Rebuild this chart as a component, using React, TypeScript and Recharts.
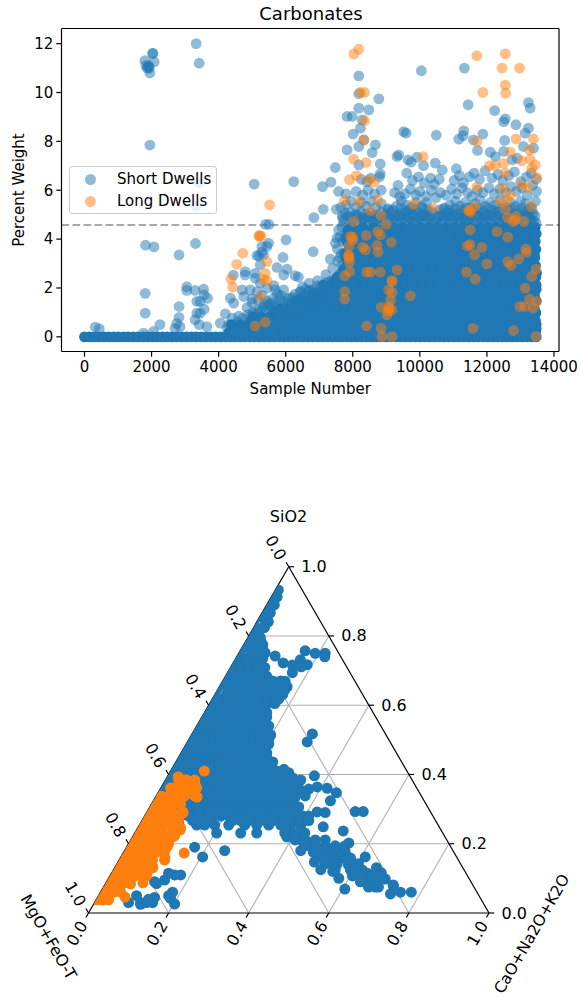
import React from "react";
import { ScatterChart, Scatter, XAxis, YAxis, ReferenceLine, Legend, Label } from "recharts";

const FONT = "'DejaVu Sans', sans-serif";
const BLUE = "#1f77b4";
const ORANGE = "#ff7f0e";

const xTicks = [0, 2000, 4000, 6000, 8000, 10000, 12000, 14000];
const yTicks = [0, 2, 4, 6, 8, 10, 12];
const threshold = 4.58;
const legendOrder = ["Short Dwells", "Long Dwells"];

// Saturated band along zero
const zeroStripX = [0,140,290,430,580,720,870,1010,1160,1300,1450,1590,1740,1880,2030,2170,2320,2460,2610,2750,2900,3040,3190,3330,3480,3620,3770,3910,4060,4200,4350,4490,4640,4780,4930,5070,5220,5360,5510,5650,5800,5940,6090,6230,6380,6520,6670,6810,6960,7100,7250,7390,7540,7680,7830,7970,8120,8260,8410,8550,8700,8840,8990,9130,9280,9420,9570,9710,9860,10000,10150,10290,10440,10580,10730,10870,11020,11160,11310,11450,11600,11740,11890,12030,12180,12320,12470,12610,12760,12900,13050,13190,13340,13470];

// Saturated mass, row by row
const coreRowY = [0.33,0.66,0.98,1.3,1.62,1.95,2.28,2.6,2.92,3.25,3.58,3.9,4.22,4.48];
const coreRowX = [
  [4560,4810,5090,5340,5600,5830,6100,6350,6590,6860,7090,7350,7600,7850,8100,8330,8590,8820,9090,9320,9580,9820,10090,10320,10580,10830,11090,11330,11570,11830,12080,12330,12570,12820,13080,13320,13470],
  [5000,5280,5500,5760,6020,6240,6500,6730,7000,7220,7480,7730,7960,8220,8470,8700,8960,9200,9450,9700,9950,10200,10450,10700,10950,11200,11450,11700,11950,12200,12450,12700,12950,13200,13450],
  [5640,5900,6130,6390,6620,6880,7110,7370,7600,7850,8090,8340,8590,8830,9080,9320,9570,9810,10060,10300,10550,10790,11040,11280,11530,11770,12020,12260,12510,12750,13000,13240,13460],
  [6300,6540,6790,7030,7280,7520,7770,8010,8260,8500,8750,8990,9240,9480,9730,9970,10220,10460,10710,10950,11200,11440,11690,11930,12180,12420,12670,12910,13160,13400],
  [6800,7040,7290,7530,7780,8040,8280,8520,8770,9020,9250,9500,9750,9990,10230,10480,10730,10970,11220,11460,11710,11950,12200,12440,12690,12930,13180,13430],
  [7180,7420,7660,7900,8150,8390,8640,8880,9130,9370,9620,9860,10110,10350,10600,10840,11090,11330,11580,11820,12070,12310,12560,12800,13050,13290,13470],
  [7470,7720,7960,8210,8450,8700,8940,9190,9430,9680,9920,10170,10410,10660,10900,11150,11390,11640,11880,12130,12370,12620,12860,13110,13350],
  [7740,7980,8230,8470,8720,8960,9210,9450,9700,9940,10190,10430,10680,10920,11170,11410,11660,11900,12150,12390,12640,12880,13130,13370,13480],
  [7830,8080,8320,8570,8810,9060,9300,9550,9790,10040,10280,10530,10770,11020,11260,11510,11750,12000,12240,12490,12730,12980,13220,13450],
  [7800,8040,8290,8530,8780,9020,9270,9510,9760,10000,10250,10490,10740,10980,11230,11470,11720,11960,12210,12450,12700,12940,13190,13430],
  [7880,8130,8370,8620,8860,9110,9350,9600,9840,10090,10330,10580,10820,11070,11310,11560,11800,12050,12290,12540,12780,13030,13270,13460],
  [7820,8060,8310,8550,8800,9040,9290,9530,9780,10020,10270,10510,10760,11000,11250,11490,11740,11980,12230,12470,12720,12960,13210,13440],
  [7900,8150,8390,8640,8880,9130,9370,9620,9860,10110,10350,10600,10840,11090,11330,11580,11820,12070,12310,12560,12800,13050,13290,13470],
  [7960,8300,8620,8960,9230,9480,9750,10030,10280,10520,10790,11040,11290,11520,11790,12040,12280,12540,12780,13030,13280,13440],
];
const coreMidY = [0.16,0.5,0.82,1.14,1.46,1.78,2.12,2.44,2.76,3.08,3.42,3.74,4.06,4.36];
const coreMidX = [
  [4300,4680,4950,5220,5470,5710,5970,6220,6470,6720,6970,7220,7470,7720,7970,8220,8470,8720,8970,9210,9460,9710,9960,10210,10460,10710,10960,11210,11460,11700,11950,12200,12450,12700,12950,13200,13450],
  [4380,4640,4880,5140,5390,5630,5880,6120,6370,6610,6860,7100,7350,7590,7840,8080,8330,8570,8820,9060,9310,9550,9800,10040,10290,10530,10780,11020,11270,11510,11760,12000,12250,12490,12740,12980,13230,13470],
  [5020,5270,5510,5760,6000,6250,6490,6740,6980,7230,7470,7720,7960,8210,8450,8700,8940,9190,9430,9680,9920,10170,10410,10660,10900,11150,11390,11640,11880,12130,12370,12620,12860,13110,13350],
  [5820,6070,6310,6560,6800,7050,7290,7540,7780,8030,8270,8520,8760,9010,9250,9500,9740,9990,10230,10480,10720,10970,11210,11460,11700,11950,12190,12440,12680,12930,13170,13420],
  [6320,6570,6810,7060,7300,7550,7790,7940,8160,8400,8650,8890,9140,9380,9630,9870,10120,10360,10610,10850,11100,11340,11590,11830,12080,12320,12570,12810,13060,13300,13470],
  [6820,7070,7310,7560,7800,8020,8260,8510,8750,9000,9240,9490,9730,9980,10220,10470,10710,10960,11200,11450,11690,11940,12180,12430,12670,12920,13160,13410],
  [7120,7360,7610,7850,8090,8330,8580,8820,9070,9310,9560,9800,10050,10290,10540,10780,11030,11270,11520,11760,12010,12250,12500,12740,12990,13230,13470],
  [7530,7770,7860,8100,8340,8590,8830,9080,9320,9570,9810,10060,10300,10550,10790,11040,11280,11530,11770,12020,12260,12510,12750,13000,13240,13460],
  [7720,7940,8190,8430,8680,8920,9170,9410,9660,9900,10150,10390,10640,10880,11130,11370,11620,11860,12110,12350,12600,12840,13090,13330],
  [7930,8170,8420,8660,8910,9150,9400,9640,9890,10130,10380,10620,10870,11110,11360,11600,11850,12090,12340,12580,12830,13070,13320],
  [7760,7990,8240,8480,8730,8970,9220,9460,9710,9950,10200,10440,10690,10930,11180,11420,11670,11910,12160,12400,12650,12890,13140,13380],
  [7950,8190,8440,8680,8930,9170,9420,9660,9910,10150,10400,10640,10890,11130,11380,11620,11870,12110,12360,12600,12850,13090,13340],
  [7780,8020,8270,8510,8760,9000,9250,9490,9740,9980,10230,10470,10720,10960,11210,11450,11700,11940,12190,12430,12680,12920,13170,13410],
  [7850,8100,8440,8780,9100,9360,9620,9890,10150,10400,10660,10910,11160,11400,11660,11910,12160,12410,12660,12910,13150,13390],
];

const shortX = [
  1800,1830,1870,1920,1950,2030,2040,2080,1930,1900,3330,3420,1950,3430,3330,5060,6240,5400,5500,1820,2070,2820,3310,5200,
  1810,1810,2250,2820,2820,3050,3050,3300,3550,3570,3670,3350,3450,3570,3350,3450,3300,3420,3650,2750,2700,2850,320,440,2060,1760,
  4050,4200,4400,4350,4450,4700,4750,4440,4790,4790,5090,5090,5140,5340,5240,5290,5440,5490,5290,5740,6040,5920,6010,5940,6280,6380,5690,5940,4940,5240,
  4300,4600,4850,5000,5150,5300,5450,5600,5750,5450,5650,5850,6050,6200,6400,6550,6700,6850,7000,7150,7300,7450,7600,6100,6300,6500,6700,6900,7100,7300,7500,6500,6700,6950,7200,7400,7550,
  8180,8180,8180,8775,8480,7830,8280,7980,8230,8010,8330,8180,8675,7830,8580,7480,8180,8820,8820,7100,7350,7580,7120,7510,6840,6820,7330,7480,7530,7580,
  10045,11330,11440,12230,13240,13290,12500,12550,12865,13240,13140,9520,9590,10490,11310,11160,11290,11880,11600,12530,13090,13390,9320,9370,9650,9740,9915,10110,10460,10670,11090,11720,12100,12250,12500,12750,12900,
  7700,7850,8000,8150,8300,8450,8600,8750,8900,9050,9200,9350,9500,9650,9800,9950,10100,10250,10400,10550,10700,10850,11000,11150,11300,11450,11600,11750,11900,12050,12200,12350,12500,12650,12800,12950,13100,13250,13400,
  7650,7800,7950,8100,8250,8400,8550,8700,8850,9050,9300,9450,9600,9750,9900,10050,10200,10700,10900,11050,11200,11350,11500,11650,11800,11950,12100,12250,12400,12550,12700,12850,13000,13150,13300,13450,
  7800,8100,8300,8450,8650,8850,9250,9400,9560,9720,9880,10000,10180,10340,10480,10620,10780,10950,11100,11260,11420,11560,11720,11880,12060,12220,12380,12560,12720,12880,13040,13200,13360,13480,
  8250,8420,8540,8800,9350,9610,9780,9960,10130,10320,10430,10580,11020,11180,11300,11480,11620,11780,11950,12150,12330,12470,12650,12820,13010,13180,13320,13470,
];
const shortY = [
  11.3,11.1,11.0,11.1,10.8,11.6,11.6,11.25,11.0,11.05,12.0,11.2,7.85,6.3,5.35,6.25,6.35,4.6,4.6,3.75,3.68,3.35,3.82,3.3,
  1.78,0.97,0.5,1.24,0.8,2.05,1.9,1.9,1.95,1.72,1.58,1.45,1.45,1.13,0.97,0.97,0.7,0.5,0.42,0.55,0.35,0.42,0.4,0.33,0.22,0.15,
  0.56,0.94,0.77,1.58,1.38,1.92,1.65,2.53,2.53,2.67,2.6,2.4,3.33,3.36,2.95,3.7,3.7,3.83,3.47,2.84,2.77,3.25,3.97,2.53,2.5,2.45,1.92,1.92,1.92,2.2,
  0.5,0.85,1.2,1.55,1.85,1.7,1.45,1.55,1.75,2.0,2.1,1.7,1.55,1.6,1.5,1.7,1.9,1.65,1.95,2.1,1.8,2.3,2.5,1.2,1.25,1.3,1.4,1.45,1.5,1.55,1.9,2.05,2.2,2.3,2.55,2.8,3.1,
  10.68,9.95,9.36,9.74,9.29,9.02,8.88,9.02,8.54,8.3,8.06,7.79,7.86,7.65,7.54,6.93,7.04,7.08,6.67,6.15,6.33,5.95,5.22,5.22,4.88,3.49,3.18,3.83,4.04,4.38,
  10.89,11.0,9.5,9.26,9.59,9.36,8.81,8.92,8.68,8.54,8.34,8.4,8.34,8.25,8.43,8.09,8.23,8.3,8.06,8.04,7.79,7.72,7.38,7.45,7.24,7.15,7.35,7.01,7.11,6.83,6.88,7.63,7.56,7.38,7.59,7.24,7.31,
  4.85,4.95,4.75,4.9,4.8,4.9,4.75,4.85,4.7,4.85,4.8,4.95,4.8,4.9,4.75,4.85,4.95,4.8,4.7,4.9,4.8,4.95,4.75,4.9,4.85,4.8,4.7,4.95,4.85,4.8,4.95,4.75,4.85,4.7,4.9,4.8,4.95,4.85,4.75,
  5.3,5.4,5.55,5.3,5.5,5.35,5.55,5.3,5.45,5.2,5.35,5.55,5.4,5.3,5.5,5.35,5.5,5.25,5.4,5.55,5.35,5.5,5.3,5.45,5.6,5.35,5.5,5.4,5.6,5.3,5.5,5.35,5.55,5.45,5.3,5.55,
  5.85,5.95,5.8,6.0,5.85,6.0,5.9,5.75,5.85,6.05,5.8,5.95,5.75,6.0,5.7,5.9,5.8,6.05,5.85,6.1,5.9,5.75,6.0,5.9,6.1,5.85,6.05,5.9,6.15,5.95,6.1,5.8,6.2,5.95,
  6.45,6.35,6.5,6.55,6.2,6.7,6.4,6.55,6.3,6.5,6.25,6.45,6.4,6.6,6.3,6.55,6.7,6.45,6.8,6.5,6.65,6.4,6.6,6.75,6.35,6.55,6.7,6.45,
];

// Extra overlapping short-dwell readings along the top of the mass and the rising shoulder
const fringeX = [
  7730,7900,8060,8210,8370,8510,8660,8830,8980,9130,9280,9430,9570,9720,9870,10020,10170,10320,10470,10620,10770,10920,11070,11220,11370,11520,11670,11820,11970,12120,12270,12420,12570,12720,12870,13020,13170,13320,13470,
  7780,7930,8080,8240,8390,8530,8690,8860,9010,9170,9330,9470,9630,9780,9930,10090,10240,10390,10650,10810,10970,11130,11290,11440,11590,11740,11890,12030,12180,12330,12480,12630,12780,12930,13080,13230,13380,
  7690,7960,8140,8320,8480,8620,8780,8930,9090,9260,9410,9540,9690,9840,9990,10140,10290,10540,10720,10890,11010,11170,11340,11480,11630,11790,11930,12090,12240,12400,12530,12680,12840,12990,13140,13280,13440,
  9050,9200,9430,9570,9730,9880,10050,10200,10340,10600,10750,10900,11060,11230,11390,11540,11700,11850,12010,12160,12310,12460,12610,12760,12910,13060,13210,13350,
  4250,4420,4570,4720,4870,5020,5170,5320,5470,5620,5770,5920,6070,6220,6370,6520,6670,6820,6970,7120,7270,7420,7570,7700,
  4480,4630,4780,4930,5080,5230,5380,5530,5680,5830,5980,6130,6280,6430,6580,6730,6880,7030,7180,7330,7480,7630,
  5000,5180,5360,5550,5760,5980,6150,6320,6480,6640,6800,6960,7120,7280,7440,7590,7720,
  6450,6600,6790,6950,7110,7260,7410,7560,7680,7620,7540,7660,7700,7620,7680,
];
const fringeY = [
  4.7,4.65,4.72,4.68,4.75,4.65,4.72,4.68,4.75,4.65,4.7,4.72,4.66,4.75,4.68,4.7,4.74,4.66,4.72,4.68,4.75,4.7,4.65,4.72,4.68,4.74,4.66,4.72,4.7,4.66,4.75,4.68,4.72,4.65,4.7,4.74,4.68,4.72,4.66,
  5.05,5.1,5.0,5.12,5.02,5.08,5.0,5.1,5.05,5.12,5.0,5.08,5.12,5.02,5.1,5.0,5.08,5.05,5.0,5.1,5.08,5.02,5.12,5.0,5.1,5.05,5.12,5.0,5.08,5.1,5.02,5.12,5.05,5.0,5.1,5.08,5.02,
  4.95,4.9,4.98,4.88,4.92,4.95,4.9,4.98,4.88,4.94,4.92,4.98,4.88,4.95,4.9,4.96,4.88,4.92,4.95,4.9,4.98,4.88,4.94,4.9,4.96,4.88,4.92,4.98,4.9,4.95,4.88,4.92,4.98,4.9,4.94,4.88,4.95,
  5.25,5.2,5.28,5.18,5.25,5.2,5.28,5.22,5.15,5.2,5.28,5.18,5.25,5.2,5.28,5.18,5.25,5.2,5.28,5.18,5.22,5.25,5.2,5.28,5.18,5.25,5.2,5.22,
  0.35,0.5,0.62,0.75,0.9,1.0,1.1,1.2,1.28,1.38,1.3,1.45,1.35,1.42,1.55,1.62,1.6,1.72,1.8,1.85,1.95,2.05,2.2,2.45,
  0.2,0.42,0.55,0.8,0.95,1.05,1.15,1.35,1.2,1.55,1.25,1.6,1.75,1.85,1.55,1.9,1.7,2.05,2.2,2.15,2.25,2.6,
  1.4,1.5,1.35,1.1,1.05,1.15,1.12,1.2,1.18,1.25,1.3,1.35,1.42,1.5,1.6,1.72,2.6,
  1.85,1.95,1.92,2.1,2.0,2.25,2.35,2.45,2.95,3.25,3.6,3.4,3.9,4.1,4.5,
];

const longX = [
  8030,8180,11700,12550,12450,12975,11880,12550,12560,8230,8350,8350,8330,12865,13390,11700,12700,13270,8030,8400,10095,12080,12250,12500,13290,13440,13040,13340,12550,8110,7900,8480,8645,13490,13040,13220,11700,12470,12700,12600,7750,8180,8745,12400,13320,11650,9820,10390,11450,8530,12550,8845,12860,12620,13100,8030,9000,11500,8745,12300,7930,8400,8825,9150,12620,8000,11500,8725,8300,8380,7880,8755,11850,13160,11630,13180,12620,12950,7880,12720,12000,9320,8410,8530,8820,7910,7760,11390,11650,13340,13470,9170,9070,9170,7760,7760,13140,9720,13270,13490,12980,13130,13380,8845,9070,9170,9020,8410,8845,11585,12795,8870,9170,13460,
  5520,5220,4720,4540,4370,4420,5440,5390,5340,5440,5240,5090,5390,5200,5260,7880,9170,9050,11480,11520,11420,12780,12840,8000,7900,7880,9130,9090,
];
const longY = [
  11.58,11.77,11.5,11.58,11.0,11.0,10.0,10.3,9.97,10.0,10.0,8.85,8.06,8.1,8.1,8.0,7.56,7.65,7.27,7.13,7.38,7.01,7.01,7.1,7.27,7.04,7.2,6.9,6.7,6.6,6.43,6.43,6.33,6.52,6.22,6.11,6.13,6.08,5.81,5.6,5.58,5.54,5.6,5.54,5.33,5.36,5.43,5.29,5.17,5.17,5.22,4.97,4.93,4.88,4.72,4.72,4.6,4.38,4.31,4.31,4.1,4.15,4.17,3.87,4.08,3.97,3.77,3.74,3.67,3.56,3.7,3.47,3.66,3.59,3.36,3.47,3.08,3.19,3.22,2.92,2.99,2.74,2.65,2.65,2.65,2.67,2.5,2.65,2.36,2.47,2.77,2.26,1.92,1.81,1.86,1.54,1.99,1.68,1.54,1.45,1.24,1.24,1.17,1.21,1.24,1.1,0.9,0.45,0.35,0.35,0.26,0.01,0.01,0.02,
  5.4,4.13,3.42,2.97,2.36,2.03,3.08,2.6,2.36,2.3,1.65,0.45,0.6,4.13,4.13,3.3,2.3,1.05,5.18,5.1,3.72,4.72,4.78,4.08,3.05,3.35,1.5,1.15,
];

// Ternary: horizontal projection (CaO + SiO2/2) and SiO2
const ternBlueRowS = [0.775,0.748,0.722,0.696,0.67,0.644,0.618,0.592,0.566,0.54,0.514,0.488,0.462,0.436,0.41,0.384,0.358,0.332,0.306,0.28,0.254,0.231];
const ternBlueRowX = [
  [0.39,0.415,0.435],
  [0.375,0.405,0.425,0.438],
  [0.36,0.39,0.41,0.43],
  [0.35,0.375,0.395,0.415,0.435],
  [0.335,0.36,0.38,0.4,0.42,0.44,0.46,0.48],
  [0.32,0.35,0.37,0.39,0.41,0.43,0.45,0.47,0.49],
  [0.31,0.335,0.355,0.375,0.395,0.415,0.435,0.455,0.475],
  [0.295,0.32,0.34,0.36,0.38,0.4,0.42,0.44],
  [0.285,0.31,0.33,0.35,0.37,0.39,0.41,0.43,0.445],
  [0.27,0.295,0.315,0.335,0.355,0.375,0.395,0.415,0.435,0.45],
  [0.257,0.28,0.3,0.32,0.34,0.36,0.38,0.4,0.42,0.44,0.455],
  [0.244,0.27,0.29,0.31,0.33,0.35,0.37,0.39,0.41,0.43,0.45],
  [0.231,0.255,0.275,0.295,0.315,0.335,0.355,0.375,0.395,0.415,0.435,0.445],
  [0.218,0.245,0.265,0.285,0.305,0.325,0.345,0.365,0.385,0.405,0.425,0.445,0.46],
  [0.205,0.23,0.25,0.27,0.29,0.31,0.33,0.35,0.37,0.39,0.41,0.43,0.45,0.47,0.49],
  [0.192,0.22,0.24,0.26,0.28,0.3,0.32,0.34,0.36,0.38,0.4,0.42,0.44,0.46,0.48,0.5,0.53],
  [0.18,0.205,0.225,0.245,0.265,0.285,0.305,0.325,0.345,0.365,0.385,0.405,0.425,0.445,0.465,0.485,0.505,0.525,0.55],
  [0.166,0.19,0.21,0.23,0.25,0.27,0.29,0.31,0.33,0.35,0.37,0.39,0.41,0.43,0.45,0.47,0.49,0.515],
  [0.153,0.18,0.2,0.22,0.24,0.26,0.28,0.3,0.32,0.34,0.36,0.38,0.4,0.42,0.44,0.46,0.48,0.5,0.525],
  [0.14,0.17,0.19,0.21,0.23,0.25,0.27,0.29,0.31,0.33,0.35,0.37,0.39,0.41,0.43,0.45,0.47,0.49,0.515,0.535,0.55],
  [0.27,0.29,0.315,0.35,0.39,0.42,0.45,0.48,0.505,0.53],
  [0.32,0.38,0.42,0.49,0.515,0.54],
];
const ternBlueMidS = [0.92,0.9,0.875,0.855,0.83,0.81,0.785,0.762,0.735,0.709,0.683,0.657,0.631,0.605,0.579,0.553,0.527,0.501,0.475,0.449,0.423,0.397,0.371,0.345,0.319,0.293,0.267];
const ternBlueMidX = [
  [0.46],
  [0.45],
  [0.44],
  [0.43],
  [0.415,0.44],
  [0.405,0.425],
  [0.395,0.415,0.43],
  [0.382,0.405,0.425,0.435],
  [0.37,0.395,0.415,0.435],
  [0.355,0.38,0.4,0.42,0.44],
  [0.342,0.365,0.385,0.405,0.425,0.445],
  [0.33,0.355,0.375,0.395,0.415,0.435,0.455,0.475,0.49],
  [0.316,0.345,0.365,0.385,0.405,0.425,0.445,0.465,0.485],
  [0.303,0.325,0.345,0.365,0.385,0.405,0.425,0.445,0.465],
  [0.29,0.31,0.33,0.35,0.37,0.39,0.41,0.43,0.445],
  [0.277,0.3,0.32,0.34,0.36,0.38,0.4,0.42,0.44],
  [0.264,0.285,0.305,0.325,0.345,0.365,0.385,0.405,0.425,0.445],
  [0.25,0.27,0.29,0.31,0.33,0.35,0.37,0.39,0.41,0.43,0.45],
  [0.238,0.26,0.28,0.3,0.32,0.34,0.36,0.38,0.4,0.42,0.44],
  [0.225,0.245,0.265,0.285,0.305,0.325,0.345,0.365,0.385,0.405,0.425,0.445],
  [0.212,0.235,0.255,0.275,0.295,0.315,0.335,0.355,0.375,0.395,0.415,0.435,0.455],
  [0.2,0.22,0.24,0.26,0.28,0.3,0.32,0.34,0.36,0.38,0.4,0.42,0.44,0.46,0.48],
  [0.186,0.21,0.23,0.25,0.27,0.29,0.31,0.33,0.35,0.37,0.39,0.41,0.43,0.45,0.47,0.49,0.51],
  [0.173,0.195,0.215,0.235,0.255,0.275,0.295,0.315,0.335,0.355,0.375,0.395,0.415,0.435,0.455,0.475,0.495,0.515],
  [0.16,0.185,0.205,0.225,0.245,0.265,0.285,0.305,0.325,0.345,0.365,0.385,0.405,0.425,0.445,0.465,0.485,0.505],
  [0.147,0.17,0.19,0.21,0.23,0.25,0.28,0.3,0.32,0.34,0.36,0.38,0.4,0.42,0.44,0.46,0.48,0.5,0.52],
  [0.134,0.16,0.18,0.2,0.26,0.28,0.3,0.36,0.38,0.4,0.44,0.46,0.5,0.525,0.55],
];
// The thick descending band toward the lower right
const ternBandS = [0.211,0.194,0.176,0.159,0.142,0.124,0.107,0.09,0.075];
const ternBandX = [
  [0.516,0.541,0.566,0.591],
  [0.541,0.566,0.591,0.616,0.641],
  [0.566,0.591,0.616,0.641],
  [0.579,0.604,0.629,0.654],
  [0.591,0.621,0.649,0.674],
  [0.616,0.654,0.684],
  [0.659,0.684,0.709],
  [0.679,0.704,0.724],
  [0.699,0.724],
];
const ternBlueX = [0.474,0.471,0.464,0.454,0.449,0.439,0.429,0.441,0.466,0.486,0.509,0.541,0.566,0.591,0.59,0.529,0.546,0.531,0.509,0.491,0.496,0.479,0.466,0.559,0.546,0.564,0.488,0.571,0.541,0.596,0.619,0.604,0.571,0.591,0.666,0.686,0.586,0.636,0.65,0.599,0.571,0.536,0.561,0.586,0.616,0.636,0.611,0.564,0.591,0.641,0.656,0.691,0.719,0.649,0.664,0.686,0.696,0.721,0.731,0.741,0.761,0.779,0.64,0.761,0.806,0.721,0.754,0.716,0.5,0.51,0.525,0.5,0.51,0.53,0.495,0.52,0.495,0.53,0.55,0.57,0.58,0.6,0.61,0.625,0.265,0.225,0.15,0.2,0.205,0.13,0.145,0.21,0.17,0.165,0.12,0.2,0.23,0.285,0.34,0.215,0.1,0.13,0.16,0.215,0.19,0.165,0.135];
const ternBlueS = [0.933,0.913,0.89,0.867,0.841,0.824,0.795,0.751,0.742,0.722,0.716,0.757,0.75,0.75,0.74,0.731,0.717,0.711,0.694,0.669,0.653,0.669,0.636,0.517,0.494,0.396,0.415,0.364,0.338,0.36,0.347,0.324,0.292,0.29,0.293,0.293,0.249,0.237,0.202,0.179,0.19,0.205,0.176,0.162,0.19,0.19,0.162,0.147,0.16,0.159,0.15,0.162,0.131,0.139,0.122,0.118,0.115,0.121,0.116,0.098,0.081,0.06,0.069,0.078,0.06,0.087,0.055,0.075,0.405,0.39,0.36,0.34,0.31,0.26,0.245,0.22,0.22,0.18,0.2,0.165,0.125,0.145,0.12,0.1,0.19,0.26,0.04,0.05,0.042,0.03,0.03,0.06,0.085,0.09,0.05,0.115,0.11,0.162,0.18,0.026,0.03,0.025,0.03,0.11,0.095,0.045,0.14];

const ternOrangeX = [0.289,0.224,0.266,0.259,0.271,0.241,0.221,0.234,0.186,0.204,0.221,0.236,0.186,0.204,0.171,0.196,0.221,0.154,0.229,0.211,0.136,0.161,0.186,0.111,0.146,0.171,0.196,0.239,0.191,0.104,0.129,0.154,0.161,0.146,0.121,0.136,0.091,0.086,0.071,0.061,0.036,0.049,0.096,0.079];
const ternOrangeS = [0.41,0.393,0.372,0.355,0.335,0.384,0.364,0.347,0.335,0.326,0.318,0.289,0.298,0.289,0.269,0.263,0.269,0.263,0.24,0.22,0.231,0.231,0.22,0.202,0.202,0.19,0.19,0.173,0.159,0.162,0.162,0.153,0.133,0.116,0.11,0.087,0.046,0.087,0.095,0.066,0.038,0.058,0.124,0.124];
const ternOrangeRowS = [0.384,0.361,0.338,0.315,0.292,0.269,0.246,0.223,0.2,0.176,0.153,0.13,0.107,0.084,0.061,0.038];
const ternOrangeRowX = [
  [0.225,0.245,0.265],
  [0.205,0.23,0.25,0.27],
  [0.18,0.2,0.22,0.24,0.265],
  [0.165,0.185,0.205,0.23],
  [0.15,0.17,0.19,0.21,0.235],
  [0.135,0.155,0.175,0.195,0.225],
  [0.125,0.145,0.165,0.185,0.21,0.23],
  [0.113,0.135,0.155,0.175,0.195,0.215],
  [0.1,0.12,0.14,0.16,0.18,0.2],
  [0.09,0.11,0.13,0.15,0.17,0.19],
  [0.078,0.1,0.12,0.14,0.16,0.19],
  [0.066,0.09,0.11,0.13,0.15,0.16],
  [0.055,0.075,0.095,0.115,0.135,0.145],
  [0.043,0.065,0.085,0.105],
  [0.032,0.05,0.065,0.08],
  [0.02,0.035,0.05],
];

const gridLevels = [0.2, 0.4, 0.6, 0.8];
const tickValues = [0, 0.2, 0.4, 0.6, 0.8, 1];
const tickLabels = ["0.0", "0.2", "0.4", "0.6", "0.8", "1.0"];

const shortPoints = [
  ...shortX.map((x, i) => ({ x, y: shortY[i] })),
  ...fringeX.map((x, i) => ({ x, y: fringeY[i] })),
];
const longPoints = longX.map((x, i) => ({ x, y: longY[i] }));
const rows = (ys: number[], xs: number[][]) => xs.flatMap((row, i) => row.map((x) => ({ x, y: ys[i] })));
const corePoints = [
  ...zeroStripX.map((x) => ({ x, y: 0 })),
  ...rows(coreRowY, coreRowX),
  ...rows(coreMidY, coreMidX),
];
const ternBluePoints = [
  ...ternBlueX.map((x, i) => ({ x, y: ternBlueS[i] })),
  ...rows(ternBlueRowS, ternBlueRowX),
  ...rows(ternBlueMidS, ternBlueMidX),
  ...rows(ternBandS, ternBandX),
];
const ternOrangePoints = [
  ...ternOrangeX.map((x, i) => ({ x, y: ternOrangeS[i] })),
  ...rows(ternOrangeRowS, ternOrangeRowX),
];

const dot = (fill: string, opacity: number, r = 5.4, clip?: string) => (p: any) => (
  <circle cx={p.cx} cy={p.cy} r={r} fill={fill} fillOpacity={opacity} stroke="none" clipPath={clip} />
);

const tickStyle = { fontSize: 15, fontFamily: FONT, fill: "#000" };
const axisLine = { stroke: "#000", strokeWidth: 1.2 };

const renderLegend = (props: any) => {
  const items = legendOrder.map((n) => (props.payload || []).find((e: any) => e.value === n)).filter(Boolean);
  return (
    <div style={{ boxSizing: "border-box", width: 148, height: 48, background: "rgba(255,255,255,0.8)", border: "1px solid #ccc", borderRadius: 3, position: "relative", fontFamily: FONT, fontSize: 15, color: "#000" }}>
      {items.map((e: any, i: number) => (
        <div key={e.value} style={{ position: "absolute", left: 0, top: 1 + i * 22, height: 22, lineHeight: "22px", whiteSpace: "nowrap" }}>
          <span style={{ position: "absolute", left: 15, top: 5.5, width: 11, height: 11, borderRadius: "50%", background: e.color, opacity: 0.5 }} />
          <span style={{ position: "absolute", left: 47 }}>{e.value}</span>
        </div>
      ))}
    </div>
  );
};

const X_DOMAIN = [-686, 14150];
const Y_DOMAIN = [-0.6, 12.62];

const TopChart = () => (
  <ScatterChart width={580} height={400} margin={{ top: 28.5, right: 21, bottom: 0, left: 0 }} style={{ position: "absolute", left: 0, top: 0 }}>
    <XAxis type="number" dataKey="x" domain={X_DOMAIN} ticks={xTicks} allowDataOverflow height={48.5} tick={tickStyle} tickSize={5.2} tickMargin={5} axisLine={axisLine} tickLine={axisLine} interval={0}>
      <Label value="Sample Number" position="insideBottom" offset={6} style={{ fontSize: 15, fontFamily: FONT, fill: "#000" }} />
    </XAxis>
    <YAxis type="number" dataKey="y" domain={Y_DOMAIN} ticks={yTicks} allowDataOverflow width={61.5} tick={tickStyle} tickSize={5.2} tickMargin={3} axisLine={axisLine} tickLine={axisLine} interval={0}>
      <Label value="Percent Weight" angle={-90} position="insideLeft" offset={19} style={{ fontSize: 15, fontFamily: FONT, fill: "#000", textAnchor: "middle" }} />
    </YAxis>
    <Scatter data={corePoints} legendType="none" fill={BLUE} shape={dot(BLUE, 1)} isAnimationActive={false} />
    <Scatter name="Short Dwells" data={shortPoints} fill={BLUE} shape={dot(BLUE, 0.5)} isAnimationActive={false} />
    <Scatter name="Long Dwells" data={longPoints} fill={ORANGE} shape={dot(ORANGE, 0.5)} isAnimationActive={false} />
    <ReferenceLine y={threshold} stroke="#a9a9a9" strokeWidth={2} strokeDasharray="7.7 3.3" />
    <ReferenceLine y={Y_DOMAIN[1]} stroke="#000" strokeWidth={1.2} />
    <ReferenceLine x={X_DOMAIN[1]} stroke="#000" strokeWidth={1.2} />
    <Legend layout="vertical" align="center" verticalAlign="middle" content={renderLegend} wrapperStyle={{ position: "absolute", left: 69, top: 166, width: 148, height: 48 }} />
    <text x={311} y={20} textAnchor="middle" fontSize={18} fontFamily={FONT} fill="#000">Carbonates</text>
  </ScatterChart>
);

const Seg = (a: [number, number], b: [number, number], key: string, stroke: string, w: number) => (
  <ReferenceLine key={key} segment={[{ x: a[0], y: a[1] }, { x: b[0], y: b[1] }]} stroke={stroke} strokeWidth={w} ifOverflow="visible" />
);

const tickMark = (kind: string) => (p: any) => {
  const { cx, cy, payload } = p;
  const common = { fontSize: 16, fontFamily: FONT, fill: "#000" };
  if (kind === "right") {
    return (
      <g>
        <line x1={cx} y1={cy} x2={cx + 5.2} y2={cy} stroke="#000" strokeWidth={1.2} />
        <text x={cx + 12.5} y={cy} dominantBaseline="central" {...common}>{payload.label}</text>
      </g>
    );
  }
  if (kind === "left") {
    const tx = cx - 13, ty = cy - 19;
    return (
      <g>
        <line x1={cx} y1={cy} x2={cx - 2.6} y2={cy - 4.5} stroke="#000" strokeWidth={1.2} />
        <text x={tx} y={ty} textAnchor="middle" dominantBaseline="central" transform={`rotate(60 ${tx} ${ty})`} {...common}>{payload.label}</text>
      </g>
    );
  }
  const tx = cx - 11.5, ty = cy + 20.5;
  return (
    <g>
      <line x1={cx} y1={cy} x2={cx - 2.6} y2={cy + 4.5} stroke="#000" strokeWidth={1.2} />
      <text x={tx} y={ty} textAnchor="middle" dominantBaseline="central" transform={`rotate(-60 ${tx} ${ty})`} {...common}>{payload.label}</text>
    </g>
  );
};

const rightTicks = tickValues.map((v, i) => ({ x: 1 - v / 2, y: v, label: tickLabels[i] }));
const leftTicks = tickValues.map((v, i) => ({ x: (1 - v) / 2, y: 1 - v, label: tickLabels[i] }));
const bottomTicks = tickValues.map((v, i) => ({ x: v, y: 0, label: tickLabels[i] }));

const TernaryChart = () => (
  <ScatterChart width={580} height={499} margin={{ top: 66.7, right: 91, bottom: 86, left: 88.5 }} style={{ position: "absolute", left: 0, top: 500 }}>
    <defs>
      <clipPath id="ternClip">
        <polygon points="88.5,413 489,413 288.75,66.7" />
      </clipPath>
    </defs>
    <XAxis type="number" dataKey="x" domain={[0, 1]} hide />
    <YAxis type="number" dataKey="y" domain={[0, 1]} hide />
    <Scatter data={ternBluePoints} fill={BLUE} shape={dot(BLUE, 1, 5.5, "url(#ternClip)")} isAnimationActive={false} />
    <Scatter data={ternOrangePoints} fill={ORANGE} shape={dot(ORANGE, 1, 5.5, "url(#ternClip)")} isAnimationActive={false} />
    {gridLevels.map((k) => Seg([k / 2, k], [1 - k / 2, k], `h${k}`, "#b0b0b0", 1.1))}
    {gridLevels.map((k) => Seg([k, 0], [(1 + k) / 2, 1 - k], `r${k}`, "#b0b0b0", 1.1))}
    {gridLevels.map((k) => Seg([k, 0], [k / 2, k], `l${k}`, "#b0b0b0", 1.1))}
    {Seg([0, 0], [1, 0], "e0", "#000", 1.2)}
    {Seg([0, 0], [0.5, 1], "e1", "#000", 1.2)}
    {Seg([1, 0], [0.5, 1], "e2", "#000", 1.2)}
    <Scatter data={rightTicks} shape={tickMark("right")} isAnimationActive={false} />
    <Scatter data={leftTicks} shape={tickMark("left")} isAnimationActive={false} />
    <Scatter data={bottomTicks} shape={tickMark("bottom")} isAnimationActive={false} />
    <text x={288.5} y={16} textAnchor="middle" dominantBaseline="central" fontSize={16} fontFamily={FONT} fill="#000">SiO2</text>
    <text x={48.5} y={437} textAnchor="middle" dominantBaseline="central" fontSize={16} fontFamily={FONT} fill="#000" transform="rotate(60 48.5 437)">MgO+FeO-T</text>
    <text x={532} y={434} textAnchor="middle" dominantBaseline="central" fontSize={15.6} fontFamily={FONT} fill="#000" transform="rotate(-60 532 434)">CaO+Na2O+K2O</text>
  </ScatterChart>
);

export default function App() {
  return (
    <div style={{ position: "absolute", left: 0, top: 0, width: 580, height: 999, overflow: "hidden", background: "#fff" }}>
      <TopChart />
      <TernaryChart />
    </div>
  );
}
